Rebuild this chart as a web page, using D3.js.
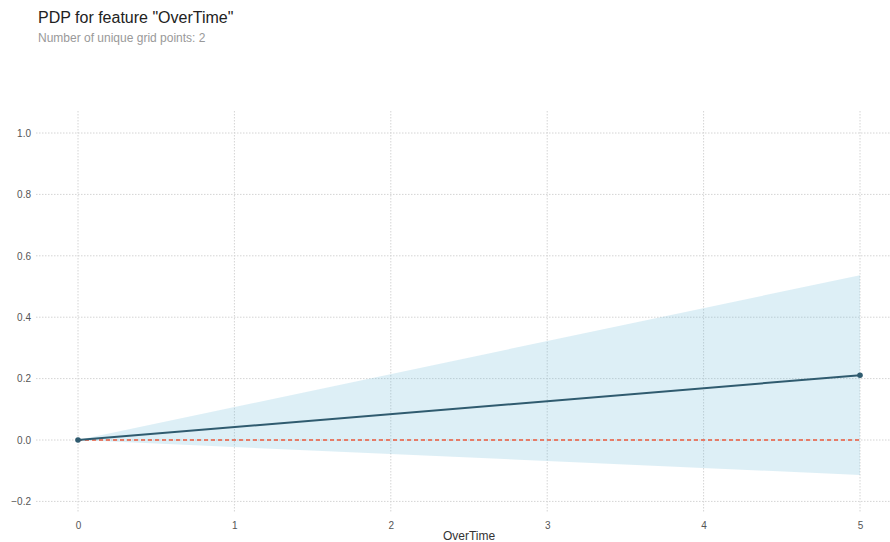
<!DOCTYPE html>
<html><head><meta charset="utf-8">
<script src="https://cdn.jsdelivr.net/npm/d3@7"></script>
<style>body{margin:0;background:#fff;} svg{display:block;font-family:Arial, "Liberation Sans", sans-serif;}</style>
</head><body>
<svg id="c" width="890" height="542"></svg>
<script>
const gridX = [0, 5];
const pdpValues = [0, 0.211];
const upperValues = [0, 0.537];
const lowerValues = [0, -0.114];
const xTicks = [0, 1, 2, 3, 4, 5];
const yTicks = [-0.2, 0.0, 0.2, 0.4, 0.6, 0.8, 1.0];
const title = 'PDP for feature "OverTime"';
const subtitle = 'Number of unique grid points: 2';
const xLabel = 'OverTime';

(function () {
const svg = d3.select('#c');
const x = d3.scaleLinear().domain([0, 5]).range([78, 860]);
const y = d3.scaleLinear().domain([0, 1]).range([440, 133]);
const pLeft = 36, pRight = 890, pTop = 111, pBottom = 513;

// gridlines
const g = svg.append('g');
g.selectAll('.hg').data(yTicks).enter().append('line')
  .attr('x1', pLeft).attr('x2', pRight)
  .attr('y1', d => y(d)).attr('y2', d => y(d))
  .attr('stroke', '#d4d4d4').attr('stroke-width', 1).attr('stroke-dasharray', '1.5,1.5');
g.selectAll('.vg').data(xTicks).enter().append('line')
  .attr('x1', d => x(d)).attr('x2', d => x(d))
  .attr('y1', pTop).attr('y2', pBottom)
  .attr('stroke', '#d4d4d4').attr('stroke-width', 1).attr('stroke-dasharray', '1.5,1.5');

const pts = gridX.map((v, i) => ({x: v, m: pdpValues[i], u: upperValues[i], l: lowerValues[i]}));

svg.append('path').datum(pts)
  .attr('d', d3.area().x(d => x(d.x)).y0(d => y(d.l)).y1(d => y(d.u)))
  .attr('fill', '#66b8d8').attr('fill-opacity', 0.22);

svg.append('line')
  .attr('x1', x(0)).attr('x2', x(5)).attr('y1', y(0)).attr('y2', y(0))
  .attr('stroke', '#ec5a3c').attr('stroke-width', 1.5).attr('stroke-dasharray', '4,3');

svg.append('path').datum(pts)
  .attr('d', d3.line().x(d => x(d.x)).y(d => y(d.m)))
  .attr('fill', 'none').attr('stroke', '#2f5b6f').attr('stroke-width', 2);

svg.selectAll('.pt').data(pts).enter().append('circle')
  .attr('cx', d => x(d.x)).attr('cy', d => y(d.m)).attr('r', 2.8)
  .attr('fill', '#2f5b6f');

// axes
const yAxis = d3.axisLeft(y).tickValues(yTicks).tickSize(0).tickPadding(5)
  .tickFormat(d => d3.format('.1f')(d).replace('-', '\u2212'));
const ya = svg.append('g').attr('transform', `translate(${pLeft},0)`).call(yAxis);
ya.select('.domain').remove();
ya.selectAll('text').attr('fill', '#555').style('font-size', '10px');

const xAxis = d3.axisBottom(x).tickValues(xTicks).tickSize(0).tickPadding(9).tickFormat(d3.format('d'));
const xa = svg.append('g').attr('transform', `translate(0,${pBottom})`).call(xAxis);
xa.select('.domain').remove();
xa.selectAll('text').attr('fill', '#555').style('font-size', '10px');

svg.append('text').attr('x', 469).attr('y', 540).attr('text-anchor', 'middle')
  .attr('fill', '#333').style('font-size', '12px').text(xLabel);

svg.append('text').attr('x', 38).attr('y', 23).attr('fill', '#222')
  .style('font-size', '16px').text(title);
svg.append('text').attr('x', 38).attr('y', 42).attr('fill', '#999')
  .style('font-size', '12px').text(subtitle);
})();
</script>
</body></html>
